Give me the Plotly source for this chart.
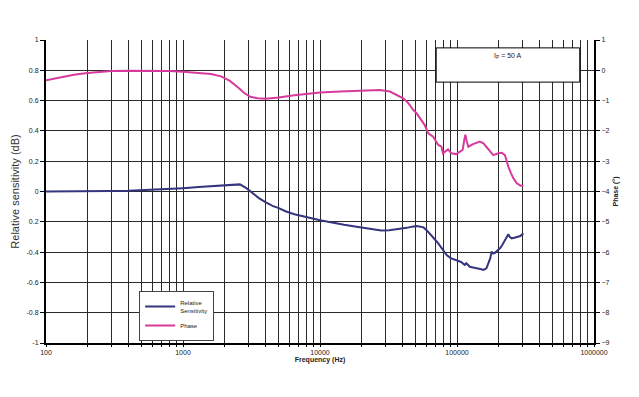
import plotly.graph_objects as go

# Relative sensitivity (dB) versus frequency
freq_sens = [100, 150, 200, 300, 400, 500, 700, 1000, 1300, 1600, 2000, 2300, 2600,
             2900, 3200, 3600, 4000, 4500, 5000, 5600, 6500, 7500, 9000, 10000, 12000,
             15000, 19000, 24000, 28000, 32000, 36000, 40000, 43000, 47000, 51000,
             54000, 57000, 60000, 64000, 68000, 73000, 78000, 84000, 90000, 99000,
             107000, 114000, 117000, 124000, 132000, 139000, 148000, 156000, 164000,
             170000, 175000, 179000, 184000, 189000, 196000, 206000, 215000, 224000,
             232000, 237000, 243000, 251000, 262000, 273000, 290000, 305000]
sensitivity = [0.0, 0.0, 0.0, 0.003, 0.005, 0.008, 0.013, 0.022, 0.029, 0.035, 0.043,
               0.048, 0.047, 0.022, -0.01, -0.045, -0.07, -0.095, -0.11, -0.13, -0.15,
               -0.165, -0.18, -0.19, -0.205, -0.22, -0.235, -0.25, -0.258, -0.255,
               -0.25, -0.245, -0.24, -0.232, -0.228, -0.232, -0.237, -0.255, -0.28,
               -0.31, -0.342, -0.38, -0.419, -0.44, -0.452, -0.465, -0.485, -0.474,
               -0.497, -0.5, -0.507, -0.512, -0.518, -0.507, -0.47, -0.44, -0.397,
               -0.41, -0.405, -0.39, -0.375, -0.35, -0.32, -0.29, -0.283, -0.3,
               -0.309, -0.305, -0.302, -0.294, -0.276]

# Phase (degrees) versus frequency
freq_phase = [100, 130, 160, 200, 250, 300, 400, 600, 800, 1000, 1300, 1600, 1900,
              2200, 2500, 2800, 3100, 3500, 4000, 5000, 6500, 8000, 10000, 14000,
              20000, 27400, 32400, 36000, 40500, 44000, 48000, 50800, 55200, 58000,
              61700, 67000, 73000, 77000, 79000, 83000, 86000, 91000, 99000, 105000,
              110000, 113000, 115000, 118000, 121000, 131000, 140000, 147000, 156000,
              162000, 169000, 184000, 200000, 212000, 224000, 230000, 237000, 248000,
              258000, 273000, 290000, 305000]
phase = [-0.325, -0.225, -0.15, -0.09, -0.05, -0.025, -0.015, -0.015, -0.025, -0.05,
         -0.085, -0.125, -0.2, -0.35, -0.55, -0.75, -0.875, -0.925, -0.935, -0.9,
         -0.825, -0.775, -0.735, -0.7, -0.665, -0.65, -0.7, -0.8, -0.925, -1.075,
         -1.31, -1.42, -1.65, -1.8, -2.08, -2.19, -2.465, -2.52, -2.74, -2.65, -2.61,
         -2.74, -2.765, -2.685, -2.63, -2.3, -2.125, -2.35, -2.52, -2.435, -2.4,
         -2.355, -2.41, -2.5, -2.63, -2.8, -2.74, -2.72, -2.8, -3.0, -3.18, -3.4,
         -3.565, -3.73, -3.8, -3.82]

# Axis ticks
decades = [100, 1000, 10000, 100000, 1000000]
x_tickvals = []
x_ticktext = []
for d in decades:
    x_tickvals.append(d)
    x_ticktext.append(str(d))
    if d < 1000000:
        for m in range(2, 10):
            x_tickvals.append(d * m)
            x_ticktext.append("")
left_tickvals = [1, 0.8, 0.6, 0.4, 0.2, 0, -0.2, -0.4, -0.6, -0.8, -1]
left_ticktext = ["1", "0.8", "0.6", "0.4", "0.2", "0", "0.2", "-0.4", "-0.6", "-0.8", "-1"]
right_tickvals = [1, 0, -1, -2, -3, -4, -5, -6, -7, -8, -9]

FONT = "Liberation Sans, Arial, sans-serif"
SENS_COLOR = "#34347f"
PHASE_COLOR = "#d63a9c"
GRID = "#2a2a2a"

fig = go.Figure()
fig.add_trace(go.Scatter(x=freq_sens, y=sensitivity, mode="lines",
                         name="Relative<br>Sensitivity",
                         line=dict(color=SENS_COLOR, width=2)))
fig.add_trace(go.Scatter(x=freq_phase, y=phase, mode="lines", name="Phase",
                         yaxis="y2", line=dict(color=PHASE_COLOR, width=2)))

fig.update_layout(
    width=639, height=397,
    margin=dict(l=46, r=45, t=40, b=54),
    paper_bgcolor="white", plot_bgcolor="white",
    font=dict(family=FONT, size=7, color="#222"),
    xaxis=dict(type="log", range=[2, 6], tickvals=x_tickvals, ticktext=x_ticktext,
               showgrid=True, gridcolor=GRID, gridwidth=1,
               showline=True, linecolor="black", linewidth=2,
               ticks="outside", ticklen=2, tickcolor="black",
               tickfont=dict(size=7, color="#222"),
               title=dict(text="<b>Frequency (Hz)</b>", font=dict(size=7, color="#222"),
                          standoff=2),
               zeroline=False),
    yaxis=dict(range=[-1, 1], tickvals=left_tickvals, ticktext=left_ticktext,
               showgrid=True, gridcolor=GRID, gridwidth=1,
               showline=True, linecolor="black", linewidth=2,
               ticks="outside", ticklen=4, tickcolor="black",
               tickfont=dict(size=7, color="#222"),
               title=dict(text="Relative sensitivity (dB)",
                          font=dict(size=11, color="#333"), standoff=5),
               zeroline=False),
    yaxis2=dict(range=[-9, 1], tickvals=right_tickvals, overlaying="y", side="right",
                showgrid=False, showline=True, linecolor="black", linewidth=2,
                ticks="outside", ticklen=4, tickcolor="black",
                tickfont=dict(size=7, color="#222"),
                title=dict(text="<b>Phase (°)</b>", font=dict(size=7, color="#222"),
                           standoff=5),
                zeroline=False),
    legend=dict(x=0.17, y=0.172, xanchor="left", yanchor="top",
                bgcolor="white", bordercolor="#444", borderwidth=1,
                font=dict(size=6, color="#222"), tracegroupgap=0,
                itemwidth=30, entrywidthmode="pixels"),
    showlegend=True,
)

# Current label box
fig.add_shape(type="rect", xref="paper", yref="paper",
              x0=0.712, x1=0.974, y0=0.861, y1=0.974,
              line=dict(color="black", width=1), fillcolor="white", layer="above")
fig.add_annotation(xref="paper", yref="paper", x=0.843, y=0.968,
                   text="I<sub>P</sub> = 50 A", showarrow=False,
                   xanchor="center", yanchor="top",
                   font=dict(size=7, color="#222", family=FONT))

fig.write_html("out.html")
